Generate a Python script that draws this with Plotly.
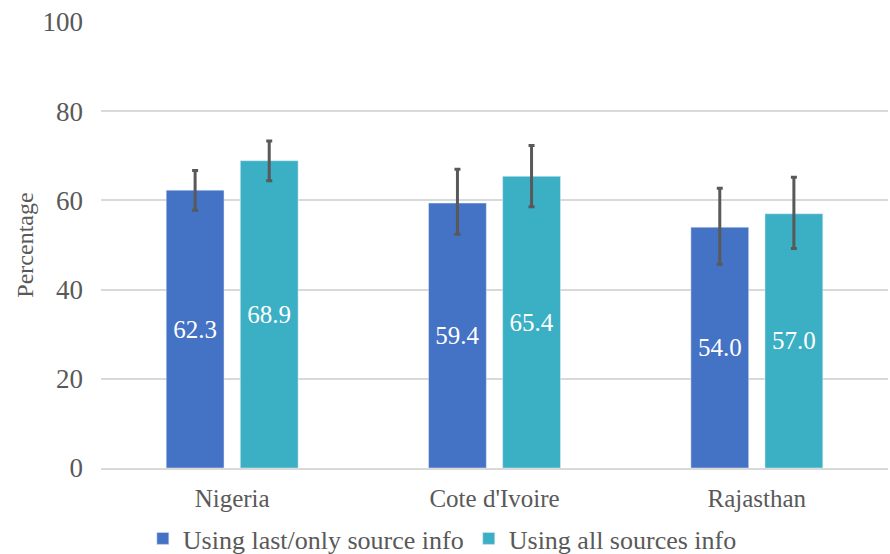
import plotly.graph_objects as go

categories = ["Nigeria", "Cote d'Ivoire", "Rajasthan"]
last_only = [62.3, 59.4, 54.0]
all_sources = [68.9, 65.4, 57.0]
last_err_plus = [4.4, 7.6, 8.7]
last_err_minus = [4.5, 7.0, 8.3]
all_err_plus = [4.4, 6.9, 8.2]
all_err_minus = [4.5, 6.8, 7.8]
y_ticks = [0, 20, 40, 60, 80, 100]

FONT = "Liberation Serif"
GRAY = "#595959"

fig = go.Figure()
fig.add_trace(go.Bar(
    name="Using last/only source info", x=categories, y=last_only,
    marker=dict(color="#4472C4"),
    text=[f"{v:.1f}" for v in last_only], textposition="inside",
    insidetextanchor="middle", textfont=dict(color="white", size=25, family=FONT),
    error_y=dict(type="data", symmetric=False, array=last_err_plus,
                 arrayminus=last_err_minus, color=GRAY, thickness=3, width=3),
))
fig.add_trace(go.Bar(
    name="Using all sources info", x=categories, y=all_sources,
    marker=dict(color="#3BAFC4"),
    text=[f"{v:.1f}" for v in all_sources], textposition="inside",
    insidetextanchor="middle", textfont=dict(color="white", size=25, family=FONT),
    error_y=dict(type="data", symmetric=False, array=all_err_plus,
                 arrayminus=all_err_minus, color=GRAY, thickness=3, width=3),
))

fig.update_layout(
    width=890, height=554,
    margin=dict(l=101, r=2, t=22, b=86, autoexpand=False),
    paper_bgcolor="white", plot_bgcolor="white",
    barmode="group", bargap=0.435, bargroupgap=0.22,
    font=dict(family=FONT, color=GRAY, size=25),
    showlegend=True,
    legend=dict(orientation="h", xref="container", x=0.497, xanchor="center",
                yref="container", y=0.028, yanchor="middle",
                font=dict(size=26, color=GRAY, family=FONT), traceorder="normal",
                itemwidth=30, tracegroupgap=0, borderwidth=0,
                bgcolor="rgba(0,0,0,0)"),
    uniformtext=dict(mode="show", minsize=10),
)
fig.update_yaxes(range=[0, 100], tickvals=y_ticks, showgrid=True,
                 gridcolor="#D9D9D9", gridwidth=1.5, zeroline=False,
                 showline=False, ticks="", ticklabelstandoff=17,
                 title=dict(text="Percentage", font=dict(size=24, color=GRAY, family=FONT), standoff=2),
                 tickfont=dict(size=27, color=GRAY, family=FONT))
fig.update_xaxes(showline=True, linecolor="#D9D9D9", linewidth=1.5, ticks="",
                 ticklabelstandoff=7,
                 tickfont=dict(size=25, color=GRAY, family=FONT))

fig.write_html("out.html", config={"displayModeBar": False},
               post_script="document.body.style.margin='0';document.body.style.overflow='hidden';")
